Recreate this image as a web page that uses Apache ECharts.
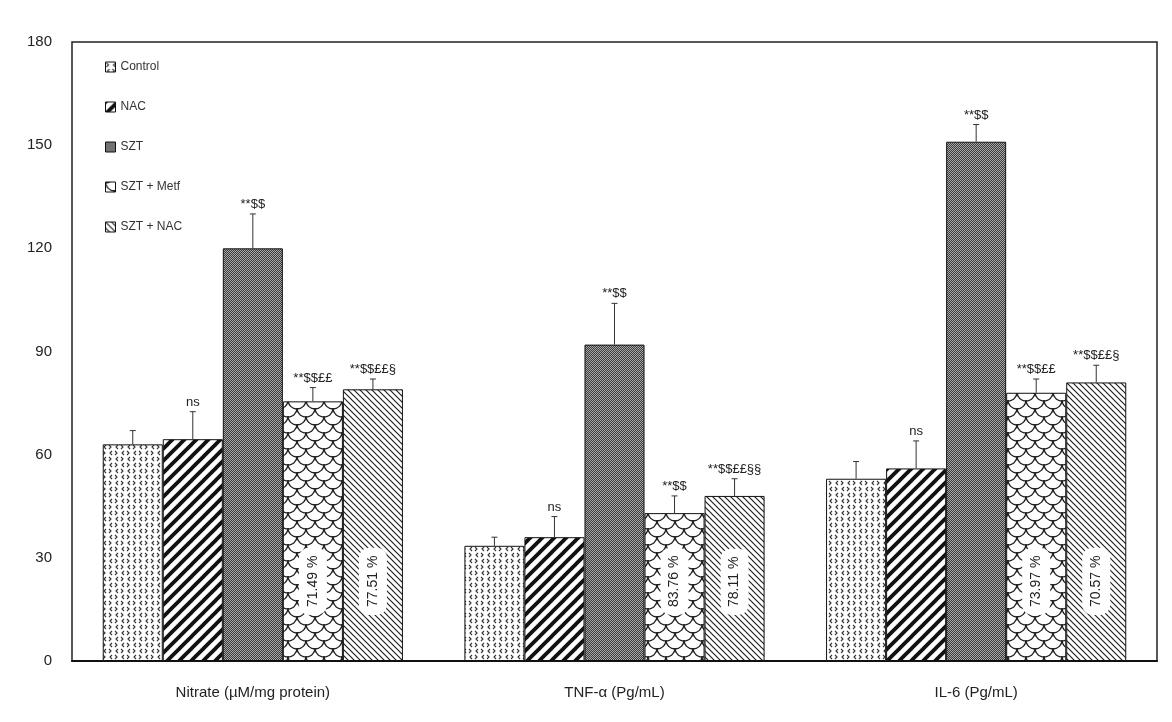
<!DOCTYPE html>
<html>
<head>
<meta charset="utf-8">
<script src="https://cdn.jsdelivr.net/npm/echarts@6/dist/echarts.min.js"></script>
<style>
  html, body { margin: 0; padding: 0; background: #fff; }
  #chart { width: 1172px; height: 722px; }
</style>
</head>
<body>
<div id="chart"></div>
<script>
// ---- data ----
const categories = ['Nitrate (µM/mg protein)', 'TNF-α (Pg/mL)', 'IL-6 (Pg/mL)'];
const groupNames = ['Control', 'NAC', 'SZT', 'SZT + Metf', 'SZT + NAC'];

const controlVals = [63, 33.5, 53];
const nacVals     = [64.5, 36, 56];
const sztVals     = [120, 92, 151];
const metfVals    = [75.5, 43, 78];
const sztNacVals  = [79, 48, 81];

const controlErr = [4, 2.5, 5];
const nacErr     = [8, 6, 8];
const sztErr     = [10, 12, 5];
const metfErr    = [4, 5, 4];
const sztNacErr  = [3, 5, 5];

const controlSig = ['', '', ''];
const nacSig     = ['ns', 'ns', 'ns'];
const sztSig     = ['**$$', '**$$', '**$$'];
const metfSig    = ['**$$££', '**$$', '**$$££'];
const sztNacSig  = ['**$$££§', '**$$££§§', '**$$££§'];

const metfPct   = ['71.49 %', '83.76 %', '73.97 %'];
const sztNacPct = ['77.51 %', '78.11 %', '70.57 %'];

const yTicks = { min: 0, max: 180, interval: 30 };

// ---- fill patterns ----
function tile(w, h, draw) {
  const c = document.createElement('canvas');
  c.width = w; c.height = h;
  const g = c.getContext('2d');
  draw(g, w, h);
  return { image: c, repeat: 'repeat' };
}

const patControl = tile(12, 12, (g, w, h) => {
  g.fillStyle = '#fff'; g.fillRect(0, 0, w, h);
  g.strokeStyle = '#333'; g.lineWidth = 1.1;
  const lt = (x, y) => { g.beginPath(); g.moveTo(x + 2, y - 2); g.lineTo(x, y); g.lineTo(x + 2, y + 2); g.stroke(); };
  const gt = (x, y) => { g.beginPath(); g.moveTo(x, y - 2); g.lineTo(x + 2, y); g.lineTo(x, y + 2); g.stroke(); };
  gt(1, 3); lt(8, 3); lt(2, 9); gt(7, 9);
});

const patNac = tile(12, 12, (g, w, h) => {
  g.fillStyle = '#fff'; g.fillRect(0, 0, w, h);
  g.strokeStyle = '#111'; g.lineWidth = 3.8; g.lineCap = 'square';
  [[-6, 6, 6, -6], [0, 12, 12, 0], [6, 18, 18, 6]].forEach(([a, b, c, d]) => {
    g.beginPath(); g.moveTo(a, b); g.lineTo(c, d); g.stroke();
  });
});

const patSzt = tile(2, 2, (g) => {
  g.fillStyle = '#3c3c3c'; g.fillRect(0, 0, 2, 2);
  g.fillStyle = '#a8a8a8'; g.fillRect(0, 0, 1, 1); g.fillRect(1, 1, 1, 1);
});

const patMetf = tile(18, 16, (g, w, h) => {
  g.fillStyle = '#fff'; g.fillRect(0, 0, w, h);
  g.strokeStyle = '#222'; g.lineWidth = 1.3;
  const arc = (cx, cy) => { g.beginPath(); g.arc(cx, cy, 9, 0, Math.PI); g.stroke(); };
  arc(9, 0); arc(9, 16); arc(0, 8); arc(18, 8); arc(0, -8); arc(18, -8);
});

const patSztNac = tile(6, 6, (g, w, h) => {
  g.fillStyle = '#fff'; g.fillRect(0, 0, w, h);
  g.strokeStyle = '#222'; g.lineWidth = 1.2;
  [[-3, 3, 3, 9], [0, 0, 6, 6], [3, -3, 9, 3]].forEach(([a, b, c, d]) => {
    g.beginPath(); g.moveTo(a, b); g.lineTo(c, d); g.stroke();
  });
});

const FONT = "'Liberation Sans', 'DejaVu Sans', sans-serif";
const CAT_GAP = 0.17;

const seriesDefs = [
  { name: groupNames[0], vals: controlVals, err: controlErr, sig: controlSig, fill: patControl },
  { name: groupNames[1], vals: nacVals,     err: nacErr,     sig: nacSig,     fill: patNac },
  { name: groupNames[2], vals: sztVals,     err: sztErr,     sig: sztSig,     fill: patSzt },
  { name: groupNames[3], vals: metfVals,    err: metfErr,    sig: metfSig,    fill: patMetf,   pct: metfPct },
  { name: groupNames[4], vals: sztNacVals,  err: sztNacErr,  sig: sztNacSig,  fill: patSztNac, pct: sztNacPct }
];

const barSeries = seriesDefs.map(d => ({
  name: d.name,
  type: 'bar',
  data: d.vals,
  barGap: '0%',
  barCategoryGap: (CAT_GAP * 100) + '%',
  itemStyle: { color: d.fill, borderColor: '#111', borderWidth: 1 },
  label: d.pct ? {
    show: true,
    position: 'insideBottom',
    distance: 46,
    rotate: 90,
    align: 'left',
    verticalAlign: 'middle',
    formatter: p => d.pct[p.dataIndex],
    backgroundColor: '#fff',
    borderRadius: 10,
    padding: [7, 8],
    fontFamily: FONT,
    fontSize: 14,
    color: '#222'
  } : { show: false },
  emphasis: { disabled: true },
  z: 2
}));

// error bars with significance marks, one item per bar
const errItems = [];
seriesDefs.forEach((d, s) => {
  d.vals.forEach((v, c) => {
    errItems.push([c, v, v + d.err[c], s]);
  });
});
const errText = [];
seriesDefs.forEach(d => d.sig.forEach(t => errText.push(t)));

const errSeries = {
  type: 'custom',
  data: errItems,
  encode: { x: 0, y: [1, 2] },
  z: 5,
  silent: true,
  renderItem: (params, api) => {
    const c = api.value(0), mean = api.value(1), top = api.value(2), s = api.value(3);
    const band = api.size([1, 0])[0];
    const bw = band * (1 - CAT_GAP) / seriesDefs.length;
    const base = api.coord([c, mean]);
    const tp = api.coord([c, top]);
    const x = base[0] + (s - (seriesDefs.length - 1) / 2) * bw;
    const kids = [
      { type: 'line', shape: { x1: x, y1: base[1], x2: x, y2: tp[1] }, style: { stroke: '#333', lineWidth: 1 } },
      { type: 'line', shape: { x1: x - 3, y1: tp[1], x2: x + 3, y2: tp[1] }, style: { stroke: '#333', lineWidth: 1 } }
    ];
    const t = errText[params.dataIndex];
    if (t) {
      kids.push({
        type: 'text',
        x: x, y: tp[1] - 3,
        style: { text: t, fill: '#222', font: '13px ' + FONT, align: 'center', verticalAlign: 'bottom' }
      });
    }
    return { type: 'group', children: kids };
  }
};

const chart = echarts.init(document.getElementById('chart'), null, { renderer: 'canvas' });
chart.setOption({
  backgroundColor: '#fff',
  animation: false,
  grid: { left: 72, right: 15, top: 42, bottom: 61, show: true, borderColor: '#222', borderWidth: 1.5, backgroundColor: 'transparent' },
  legend: {
    data: groupNames,
    orient: 'vertical',
    left: 100,
    top: 56,
    itemWidth: 10,
    itemHeight: 10,
    itemGap: 28,
    icon: 'rect',
    selectedMode: false,
    textStyle: { fontFamily: FONT, fontSize: 12, color: '#333' },
    itemStyle: { borderColor: '#111', borderWidth: 1 }
  },
  xAxis: {
    type: 'category',
    data: categories,
    axisLine: { show: true, lineStyle: { color: '#111', width: 2 } },
    axisTick: { show: false },
    axisLabel: { fontFamily: FONT, fontSize: 15, color: '#222', margin: 24 }
  },
  yAxis: {
    type: 'value',
    min: yTicks.min,
    max: yTicks.max,
    interval: yTicks.interval,
    axisLine: { show: false },
    axisTick: { show: false },
    splitLine: { show: false },
    axisLabel: { fontFamily: FONT, fontSize: 15, color: '#222', margin: 20 }
  },
  series: [...barSeries, errSeries]
});
</script>
</body>
</html>
